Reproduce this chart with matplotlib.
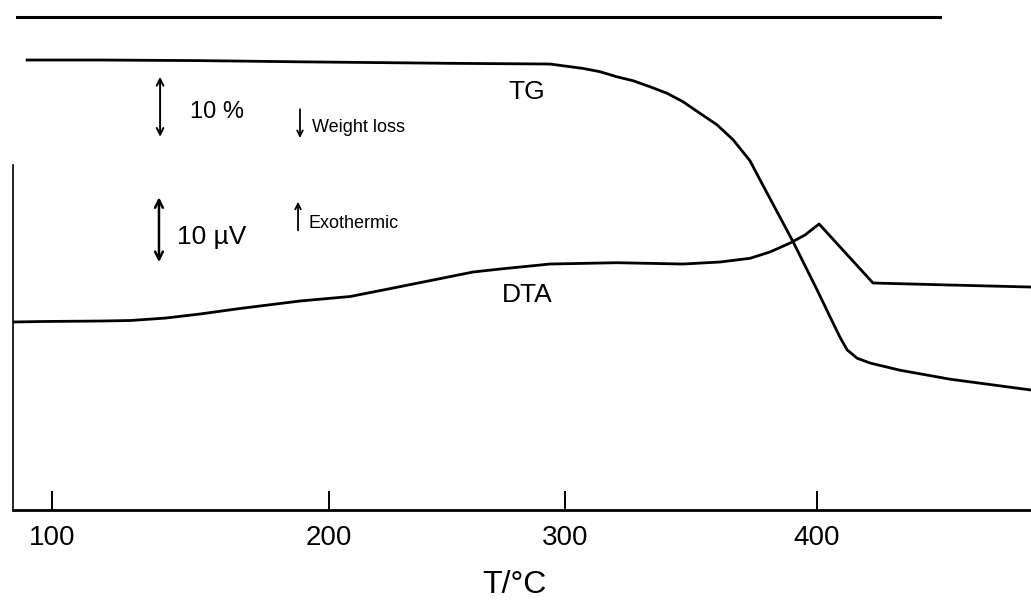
import numpy as np
import matplotlib.pyplot as plt

plt.rcParams['font.family'] = ['Liberation Sans', 'DejaVu Sans']

# TG curve (mass %)
tg_temp = [91.0, 117.3, 153.4, 189.5, 251.3, 293.6, 307.1, 313.9, 320.6, 327.0, 333.7,
           340.5, 346.8, 353.6, 360.3, 366.7, 373.4, 377.4, 390.5, 400.0, 406.3, 409.1,
           411.9, 415.9, 421.0, 432.9, 452.8, 484.9]
tg_mass = [100.0, 100.0, 99.9, 99.7, 99.45, 99.33, 98.6, 98.05, 97.2, 96.55, 95.55,
           94.45, 93.05, 91.1, 89.2, 86.7, 83.2, 80.0, 69.7, 61.7, 56.2, 53.8,
           51.7, 50.3, 49.5, 48.3, 46.8, 45.0]

# DTA curve (microvolts, relative to the starting baseline)
dta_temp = [85.9, 96.8, 117.3, 128.2, 140.8, 153.4, 167.9, 189.5, 208.9, 222.9, 244.1,
            261.0, 272.5, 293.6, 320.6, 346.8, 361.5, 373.4, 381.3, 389.3, 395.2, 400.8,
            422.2, 452.8, 484.9]
dta_uv = [0.0, 0.08, 0.15, 0.23, 0.6, 1.23, 2.08, 3.23, 3.92, 4.92, 6.46,
          7.69, 8.15, 8.92, 9.12, 8.92, 9.23, 9.8, 10.77, 12.15, 13.38, 15.08,
          6.0, 5.69, 5.38]

tick_temps = [100, 200, 300, 400]

# temperature axis of the recorder is not quite linear: where the printed marks sit
mark_temp = np.array([100.0, 200.0, 300.0, 400.0])
mark_pos = np.array([52.0, 329.0, 565.0, 817.0])


def _pw(v, xs, ys):
    v = np.asarray(v, dtype=float)
    mid = np.interp(v, xs, ys)
    lo = ys[0] + (v - xs[0]) * (ys[1] - ys[0]) / (xs[1] - xs[0])
    hi = ys[-1] + (v - xs[-1]) * (ys[-1] - ys[-2]) / (xs[-1] - xs[-2])
    return np.where(v < xs[0], lo, np.where(v > xs[-1], hi, mid))


def fwd(t):
    return _pw(t, mark_temp, mark_pos)


def inv(p):
    return _pw(p, mark_pos, mark_temp)


W, H = 1031, 601
fig = plt.figure(figsize=(W / 100, H / 100), dpi=100)
ax = fig.add_axes([13 / W, (H - 510) / H, (W - 13) / W, (510 - 17) / H])
ax.set_xscale('function', functions=(fwd, inv))
ax.set_xlim(85.9, 484.9)
ax.set_ylim(25, 107.17)

ax.plot(tg_temp, tg_mass, color='black', lw=2.0)

ax2 = ax.twinx()
ax2.set_ylim(-28.92, 46.92)
ax2.plot(dta_temp, dta_uv, color='black', lw=2.0)
for s in ax2.spines.values():
    s.set_visible(False)
ax2.set_yticks([])

# frame
ax.spines['right'].set_visible(False)
ax.spines['top'].set_bounds(87.4, 448.8)
ax.spines['top'].set_linewidth(2.2)
ax.spines['left'].set_bounds(25, 82.5)
ax.spines['left'].set_linewidth(1.2)
ax.spines['bottom'].set_linewidth(2.0)
ax.set_yticks([])
ax.set_xticks(tick_temps)
ax.set_xticklabels([str(t) for t in tick_temps])
ax.tick_params(axis='x', direction='in', length=13.7, width=1.4, labelsize=20, pad=11)
ax.minorticks_off()
ax.set_xlabel('T/°C', fontsize=23, va='center')
ax.xaxis.set_label_coords(0.493, -0.152)

# labels
ax.text(283.9, 94.7, 'TG', fontsize=19, ha='center', va='center')
ax2.text(283.9, 4.15, 'DTA', fontsize=19, ha='center', va='center')

# scale bars
ax.annotate('', xy=(139.0, 87.2), xytext=(139.0, 97.2),
            arrowprops=dict(arrowstyle='<->', lw=1.4, color='black',
                            shrinkA=0, shrinkB=0, mutation_scale=12))
ax.text(159.6, 91.3, '10 %', fontsize=17, ha='center', va='center')
ax2.annotate('', xy=(138.6, 9.2), xytext=(138.6, 19.2),
             arrowprops=dict(arrowstyle='<->', lw=1.8, color='black',
                             shrinkA=0, shrinkB=0, mutation_scale=14))
ax2.text(157.8, 13.1, '10 µV', fontsize=19, ha='center', va='center')

# direction hints
ax.annotate('', xy=(189.5, 87.0), xytext=(189.5, 91.8),
            arrowprops=dict(arrowstyle='->', lw=1.3, color='black',
                            shrinkA=0, shrinkB=0, mutation_scale=10))
ax.text(193.9, 88.7, 'Weight loss', fontsize=13, ha='left', va='center')
ax2.annotate('', xy=(188.8, 18.5), xytext=(188.8, 14.1),
             arrowprops=dict(arrowstyle='->', lw=1.3, color='black',
                             shrinkA=0, shrinkB=0, mutation_scale=10))
ax2.text(192.4, 15.2, 'Exothermic', fontsize=13, ha='left', va='center')

fig.savefig('out.png', dpi=100)
